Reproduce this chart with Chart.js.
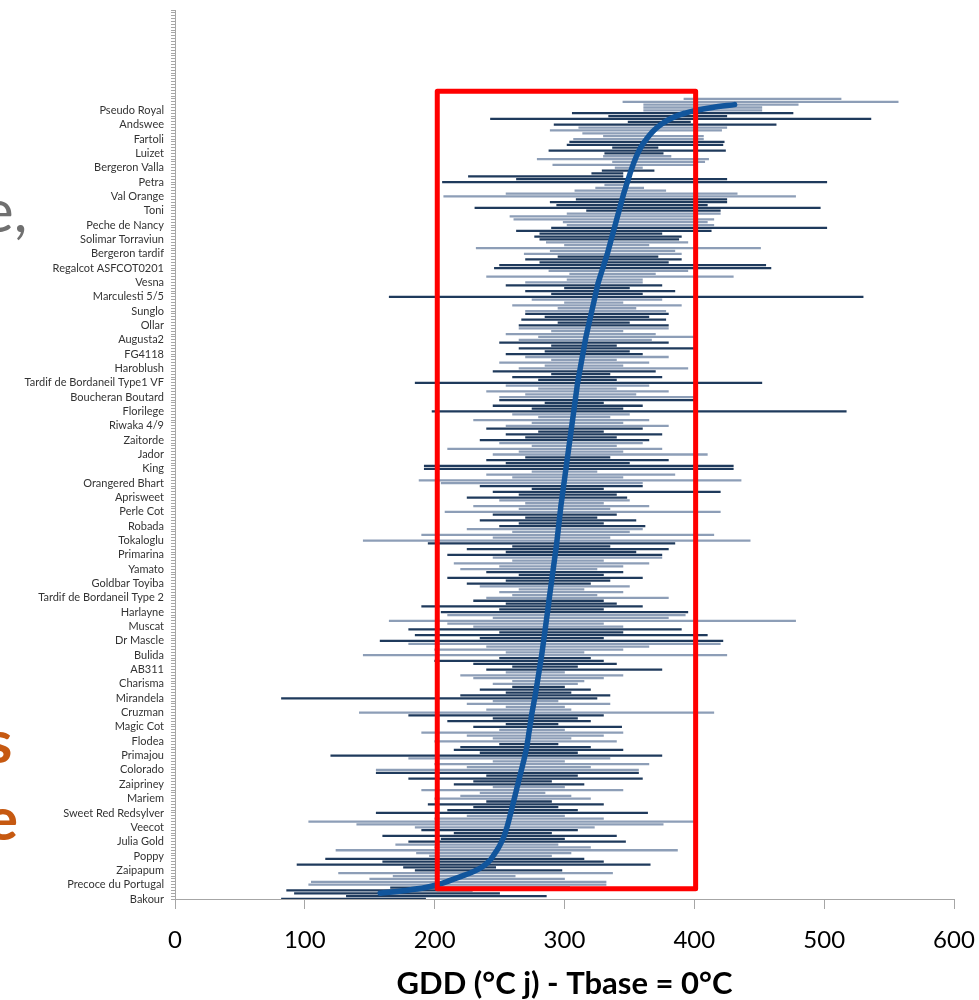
<!DOCTYPE html>
<html><head><meta charset="utf-8">
<script src="https://cdn.jsdelivr.net/npm/chart.js@4.4.1/dist/chart.umd.min.js"></script>
<style>
html,body{margin:0;padding:0;background:#fff;}
#wrap{position:relative;width:979px;height:1000px;overflow:hidden;background:#fff;}
canvas{position:absolute;left:0;top:0;}
.frag{position:absolute;font-family:Lato,sans-serif;font-size:60px;line-height:60px;white-space:nowrap;z-index:2;}
</style></head><body>
<div id="wrap">
<canvas id="c" width="979" height="1000"></canvas>
<span class="frag" style="left:-18px;top:179px;color:#707070;">e,</span>
<span class="frag" style="left:-14px;top:710px;color:#C65911;font-weight:bold;">s</span>
<span class="frag" style="left:-14px;top:787px;color:#C65911;font-weight:bold;">e</span>
</div>
<script>
// Variety names shown on the axis (every 5th row, bottom to top)
const varietyNames = ["Bakour","Precoce du Portugal","Zaipapum","Poppy","Julia Gold","Veecot","Sweet Red Redsylver","Mariem","Zaipriney","Colorado","Primajou","Flodea","Magic Cot","Cruzman","Mirandela","Charisma","AB311","Bulida","Dr Mascle","Muscat","Harlayne","Tardif de Bordaneil Type 2","Goldbar Toyiba","Yamato","Primarina","Tokaloglu","Robada","Perle Cot","Aprisweet","Orangered Bhart","King","Jador","Zaitorde","Riwaka 4/9","Florilege","Boucheran Boutard","Tardif de Bordaneil Type1 VF","Haroblush","FG4118","Augusta2","Ollar","Sunglo","Marculesti 5/5","Vesna","Regalcot ASFCOT0201","Bergeron tardif","Solimar Torraviun","Peche de Nancy","Toni","Val Orange","Petra","Bergeron Valla","Luizet","Fartoli","Andswee","Pseudo Royal"];

// Minimum GDD per variety (row 0 = bottom)
const minGDD = [
 82,132,92,86,166,103,105,150,168,126,
 185,176,94,160,116,196,186,124,200,170,
 180,205,160,215,190,185,140,103,200,225,
 155,210,230,195,240,200,220,235,190,245,
 215,230,180,240,155,155,225,200,245,180,
 120,235,215,220,250,200,245,225,190,250,
 230,255,210,245,180,142,240,255,225,245,
 82,220,255,235,260,245,260,230,220,255,
 240,260,230,200,250,145,255,200,240,180,
 158,235,185,250,180,230,210,165,245,210,
 205,250,190,255,230,240,260,250,265,235,
 225,255,210,265,240,220,250,215,260,245,
 210,255,225,260,195,145,245,190,260,225,
 250,265,235,270,245,208,265,230,270,250,
 225,265,245,275,235,205,188,260,240,275,
 192,192,255,240,270,245,265,210,275,250,
 235,270,255,280,240,255,275,230,280,260,
 198,275,245,285,250,250,270,240,280,255,
 185,280,260,290,245,265,285,250,290,270,
 255,285,265,290,250,265,280,255,290,265,
 265,295,267,285,270,270,295,260,300,275,
 165,290,270,300,255,270,302,240,304,288,
 246,250,281,270,295,269,289,232,300,286,
 281,277,281,263,290,302,299,261,258,302,
 317,231,294,289,309,207,255,308,324,331,
 206,263,226,321,329,339,291,337,279,330,
 331,288,337,302,304,307,330,314,289,311,
 292,349,243,334,306,361,361,361,345,392
];

// Maximum GDD per variety
const maxGDD = [
 193,286,250,229,304,332,332,300,262,337,
 298,247,366,330,315,290,305,387,320,295,
 347,300,340,290,310,323,376,400,330,300,
 364,310,295,330,290,320,305,285,345,300,
 315,290,360,310,357,357,320,365,300,335,
 375,310,345,320,295,340,305,330,345,300,
 344,295,320,310,330,415,305,300,335,295,
 325,335,305,320,300,310,315,330,345,300,
 375,310,340,330,320,425,315,345,365,420,
 422,330,410,345,390,345,330,478,380,393,
 395,330,360,340,330,380,325,345,315,350,
 320,335,360,330,345,325,345,365,330,375,
 375,355,380,335,385,443,335,415,350,360,
 362,330,355,325,340,420,335,365,330,350,
 348,340,420,330,360,360,436,345,385,325,
 430,430,350,380,335,410,345,375,340,360,
 365,340,375,330,360,380,345,365,335,350,
 517,345,360,330,400,400,355,380,340,365,
 452,340,375,335,370,395,345,365,340,380,
 360,350,400,340,380,367,400,370,345,380,
 380,350,378,365,380,378,355,390,345,375,
 530,360,385,350,375,360,360,430,370,395,
 459,455,380,390,372,390,385,451,365,395,
 388,390,375,413,502,415,410,415,400,420,
 420,497,410,425,425,478,433,378,361,347,
 502,425,345,345,369,360,400,408,411,382,
 376,424,372,422,423,407,407,366,421,425,
 463,397,536,425,476,452,452,480,557,513
];

// Mean GDD per variety (sorted curve)
const meanGDD = [
 null,null,158,178,193,202,209,215,221,227,
 232,236,239,241.5,243.5,245,246.5,248,249.3,250.5,
 251.6,252.6,253.5,254.3,255,255.7,256.3,256.9,257.5,258,
 258.6,259.1,259.7,260.2,260.8,261.3,261.9,262.4,263,263.5,
 264.1,264.6,265.2,265.7,266.3,266.8,267.4,267.9,268.5,269,
 269.5,270,270.5,271,271.3,271.6,272,272.3,272.6,273,
 273.3,273.6,274,274.3,274.6,275,275.4,275.8,276.2,276.6,
 277,277.4,277.8,278.2,278.5,278.9,279.2,279.6,279.9,280.3,
 280.6,281,281.3,281.7,282,282.4,282.7,283,283.3,283.6,
 283.9,284.2,284.5,284.8,285.1,285.4,285.7,286,286.3,286.6,
 286.9,287.2,287.5,287.8,288,288.3,288.6,288.9,289.2,289.5,
 289.8,290.1,290.4,290.7,291,291.3,291.6,291.9,292.2,292.5,
 292.8,293.1,293.4,293.7,294,294.2,294.5,294.7,295,295.2,
 295.5,295.7,296,296.2,296.5,296.7,297,297.2,297.5,297.8,
 298.1,298.4,298.7,299,299.3,299.6,299.9,300.2,300.5,300.8,
 301.1,301.4,301.7,302,302.3,302.6,302.9,303.2,303.5,303.8,
 304.1,304.4,304.7,305,305.3,305.6,305.9,306.2,306.5,306.8,
 307.1,307.4,307.7,308,308.3,308.6,308.9,309.2,309.5,309.8,
 310.1,310.5,310.9,311.3,311.7,312.1,312.5,312.9,313.3,313.7,
 314.1,314.5,314.9,315.3,315.7,316.1,316.5,317,317.5,318,
 318.5,319,319.5,320,320.5,321,321.5,322,322.5,323,
 323.5,324,324.5,325,325.5,326,326.7,327.4,328.1,328.8,
 329.5,330.2,330.9,331.6,332.3,333,333.6,334.2,334.8,335.4,
 336,336.6,337.2,337.8,338.4,339,339.6,340.2,340.8,341.4,
 342,342.6,343.2,343.8,344.4,345,345.6,346.3,347,347.7,
 348.4,349.1,349.8,350.5,351.2,352,352.8,353.6,354.5,355.4,
 356.4,357.5,358.7,360,361.5,363.1,364.8,366.7,368.8,371.2,
 374,377.3,381.2,386,392.5,401,414,431,null,null
];

const rowCount = 311;        // rows on the category axis (incl. empty top rows)
const labelEvery = 5;
const highlightGDD = [202, 401];     // red frame, GDD range
const highlightRows = [3.6, 281.7];  // red frame, row range

const categories = Array.from({length: rowCount}, (_, i) =>
  (i % labelEvery === 0 && varietyNames[i / labelEvery]) ? varietyNames[i / labelEvery] : '');

const DARK = '#1F3A5C', GREY = '#8D9EB7';

const boxPlugin = {
  id: 'highlightBox',
  afterDraw(chart) {
    const {ctx, scales: {x, y}} = chart;
    const x0 = x.getPixelForValue(highlightGDD[0]), x1 = x.getPixelForValue(highlightGDD[1]);
    const y0 = y.getPixelForValue(highlightRows[0]), y1 = y.getPixelForValue(highlightRows[1]);
    ctx.save();
    ctx.strokeStyle = '#FF0000';
    ctx.lineWidth = 5;
    ctx.lineJoin = 'round';
    ctx.strokeRect(Math.min(x0, x1), Math.min(y0, y1), Math.abs(x1 - x0), Math.abs(y1 - y0));
    ctx.restore();
  }
};

function draw() {
  new Chart(document.getElementById('c'), {
    type: 'bar',
    data: {
      labels: categories,
      datasets: [
        {
          type: 'line', label: 'Moyenne', indexAxis: 'y',
          data: meanGDD,
          borderColor: '#11559C', borderWidth: 5.5,
          pointRadius: 0, fill: false, cubicInterpolationMode: 'monotone',
          borderCapStyle: 'round', order: 0
        },
        {
          type: 'bar', label: 'Min-Max', indexAxis: 'y',
          data: minGDD.map((v, i) => [v, maxGDD[i]]),
          backgroundColor: c => Math.floor(c.dataIndex / 5) % 2 === 0 ? DARK : GREY,
          barThickness: 1.6, borderWidth: 0, order: 1
        }
      ]
    },
    options: {
      indexAxis: 'y', responsive: false, animation: false, devicePixelRatio: 1,
      layout: {padding: 0},
      plugins: {legend: {display: false}, tooltip: {enabled: false}},
      scales: {
        x: {
          type: 'linear', position: 'bottom', min: 0, max: 600,
          ticks: {stepSize: 100, font: {family: 'Lato', size: 24}, color: '#000', padding: 17},
          grid: {drawOnChartArea: false, tickLength: 10, color: '#A6A6A6'},
          border: {color: '#A6A6A6'},
          title: {display: true, text: 'GDD (°C j) - Tbase = 0°C',
                  font: {family: 'Lato', size: 31, weight: 'bold', lineHeight: 1},
                  color: '#000', padding: {top: 0, bottom: 1}},
          afterFit: s => { s.height = 101; s.paddingRight = 25; s.paddingLeft = 0; }
        },
        y: {
          type: 'category', reverse: true, offset: false,
          ticks: {autoSkip: false, font: {family: 'Lato', size: 11}, color: '#333', padding: 7},
          grid: {offset: false, drawOnChartArea: false, tickLength: 4, color: '#A6A6A6'},
          border: {color: '#A6A6A6'},
          afterFit: s => { s.width = 175; s.paddingTop = 10; s.paddingBottom = 0; }
        }
      }
    },
    plugins: [boxPlugin]
  });
}
Promise.all([
  document.fonts.load('11px Lato'), document.fonts.load('24px Lato'),
  document.fonts.load('bold 31px Lato'), document.fonts.load('bold 60px Lato')
]).then(draw, draw);
</script>
</body></html>
